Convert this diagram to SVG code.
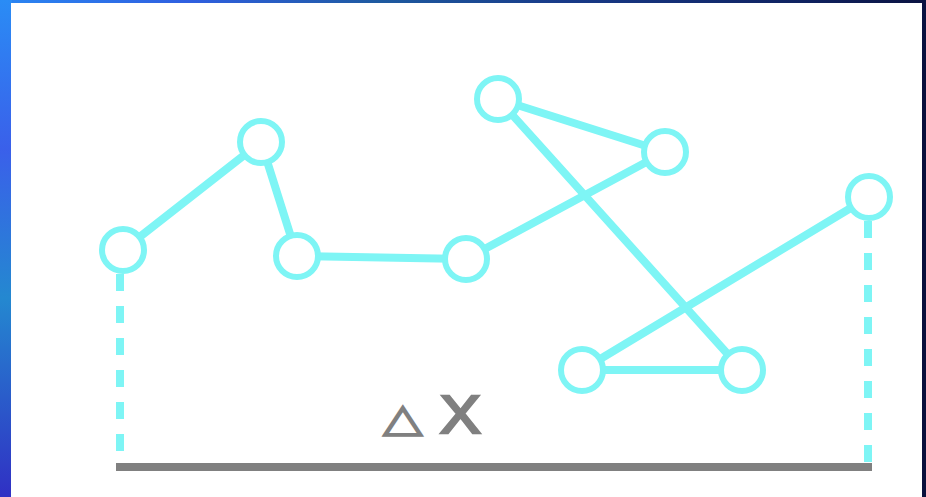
<svg xmlns="http://www.w3.org/2000/svg" width="926" height="497" viewBox="0 0 926 497">
<defs>
<linearGradient id="bg" x1="0" y1="0" x2="1" y2="0.15">
<stop offset="0" stop-color="#2a86f2"/>
<stop offset="0.2" stop-color="#2f5fe0"/>
<stop offset="0.4" stop-color="#1e5aa0"/>
<stop offset="0.6" stop-color="#183a88"/>
<stop offset="0.85" stop-color="#0f2260"/>
<stop offset="1" stop-color="#0a103c"/>
</linearGradient>
<linearGradient id="bgv" x1="0" y1="0" x2="0" y2="1">
<stop offset="0" stop-color="#2a8cf5"/>
<stop offset="0.3" stop-color="#3a60ea"/>
<stop offset="0.6" stop-color="#2488d0"/>
<stop offset="1" stop-color="#3030c4"/>
</linearGradient>
<style>
.edge{stroke:#7ef5f5;stroke-width:8;fill:none;stroke-linecap:round}
.node{stroke:#7ef5f5;stroke-width:6;fill:#ffffff}
.drop{stroke:#7ef5f5;stroke-width:8;stroke-dasharray:17 15;fill:none}
.base{stroke:#808080;stroke-width:8;fill:none}
.lbl{fill:#808080;stroke:#808080;font-family:"Liberation Sans","DejaVu Sans",sans-serif}
</style>
</defs>
<rect x="0" y="0" width="926" height="497" fill="url(#bg)"/>
<rect x="0" y="0" width="12" height="497" fill="url(#bgv)"/>
<rect x="11" y="3" width="911" height="494" fill="#ffffff"/>
<g id="connectors">
<line class="drop" x1="120" y1="274" x2="120" y2="466"/>
<line class="drop" x1="868" y1="221" x2="868" y2="466"/>
<line class="base" x1="116" y1="467" x2="872" y2="467"/>
<line class="edge" x1="123" y1="250" x2="261" y2="142"/>
<line class="edge" x1="261" y1="142" x2="297" y2="256"/>
<line class="edge" x1="297" y1="256" x2="466" y2="259"/>
<line class="edge" x1="466" y1="259" x2="665" y2="152"/>
<line class="edge" x1="665" y1="152" x2="498" y2="99"/>
<line class="edge" x1="498" y1="99" x2="742" y2="370"/>
<line class="edge" x1="742" y1="370" x2="582" y2="370"/>
<line class="edge" x1="582" y1="370" x2="869" y2="197"/>
</g>
<g id="nodeA"><circle class="node" cx="123" cy="250" r="21"/></g>
<g id="nodeB"><circle class="node" cx="261" cy="142" r="21"/></g>
<g id="nodeC"><circle class="node" cx="297" cy="256" r="21"/></g>
<g id="nodeD"><circle class="node" cx="466" cy="259" r="21"/></g>
<g id="nodeE"><circle class="node" cx="665" cy="152" r="21"/></g>
<g id="nodeF"><circle class="node" cx="498" cy="99" r="21"/></g>
<g id="nodeG"><circle class="node" cx="869" cy="197" r="21"/></g>
<g id="nodeH"><circle class="node" cx="582" cy="370" r="21"/></g>
<g id="nodeI"><circle class="node" cx="742" cy="370" r="21"/></g>
<g id="label">
<text class="lbl" font-family="DejaVu Sans" font-size="46" stroke-width="1.8" transform="translate(383,431) scale(1.12,0.85)">△</text>
<text class="lbl" font-size="54" stroke-width="2.6" transform="translate(440,433) scale(1.13,1)">X</text>
</g>
</svg>
